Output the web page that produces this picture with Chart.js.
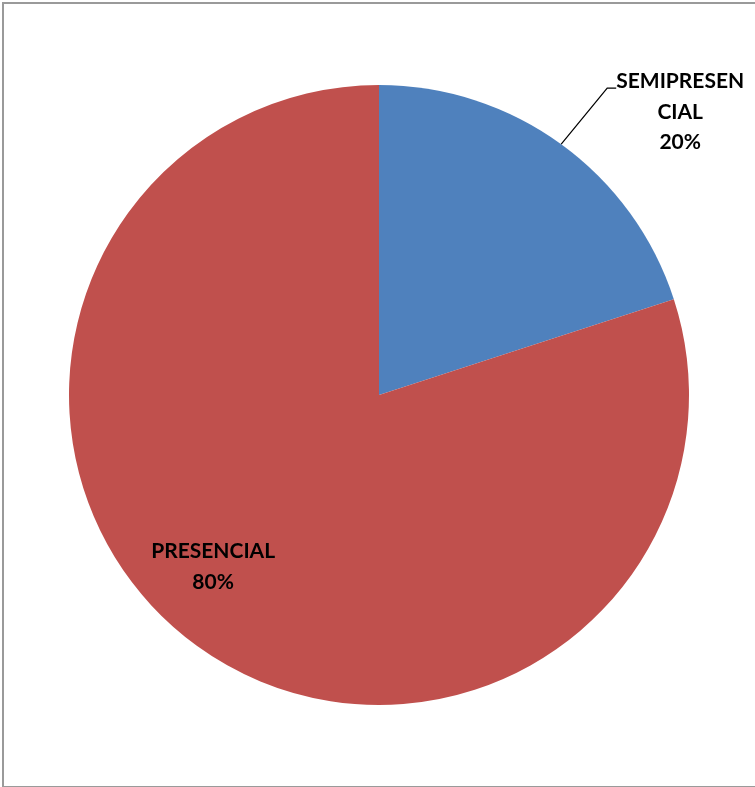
<!DOCTYPE html>
<html>
<head>
<meta charset="utf-8">
<script src="https://cdn.jsdelivr.net/npm/chart.js@4/dist/chart.umd.min.js"></script>
<style>
    html, body { margin: 0; padding: 0; background: #fff; }
    #marco {
        position: absolute;
        left: 2px;
        top: 2px;
        width: 760px;
        height: 782px;
        border-left: 2px solid #9a9a9a;
        border-top: 2px solid #9a9a9a;
        border-bottom: 2px solid #9a9a9a;
    }
    #contenedor { position: absolute; left: 0; top: 0; width: 755px; height: 787px; }
</style>
</head>
<body>
<div id="marco"></div>
<div id="contenedor"><canvas id="grafico" width="755" height="787"></canvas></div>
<script>
const modalidades = ["SEMIPRESENCIAL", "PRESENCIAL"];
const porcentajes = [20, 80];
const colores = ["#4F81BD", "#C0504D"];
// texto de cada etiqueta, partido en líneas como se dibuja
const lineasEtiqueta = [["SEMIPRESEN", "CIAL", "20%"], ["PRESENCIAL", "80%"]];

const fuente = "bold 21px Lato, 'Open Sans', sans-serif";

const etiquetasPlugin = {
    id: "etiquetas",
    afterDatasetsDraw(chart) {
        const ctx = chart.ctx;
        const arcos = chart.getDatasetMeta(0).data;
        ctx.save();
        ctx.font = fuente;
        ctx.fillStyle = "#000";
        ctx.textAlign = "center";
        ctx.textBaseline = "middle";
        const altoLinea = 30.5;

        arcos.forEach((arco, i) => {
            const { x, y, startAngle, endAngle, outerRadius } = arco.getProps(
                ["x", "y", "startAngle", "endAngle", "outerRadius"], true);
            const medio = (startAngle + endAngle) / 2;
            const lineas = lineasEtiqueta[i];
            let cx, cy;
            if (i === 0) {
                // etiqueta fuera del sector con línea guía
                const px = x + Math.cos(medio) * outerRadius;
                const py = y + Math.sin(medio) * outerRadius;
                const qx = px + 46;
                const qy = py - 56;
                ctx.strokeStyle = "#000";
                ctx.lineWidth = 1.2;
                ctx.beginPath();
                ctx.moveTo(px, py);
                ctx.lineTo(qx, qy);
                ctx.lineTo(qx + 9, qy);
                ctx.stroke();
                cx = qx + 73;
                cy = qy + 24;
            } else {
                const r = outerRadius * 0.77;
                const ang = medio + 0.14;
                cx = x + Math.cos(ang) * r;
                cy = y + Math.sin(ang) * r;
            }
            const inicio = cy - (lineas.length - 1) * altoLinea / 2;
            lineas.forEach((t, k) => ctx.fillText(t, cx, inicio + k * altoLinea));
        });
        ctx.restore();
    }
};

new Chart(document.querySelector("#grafico").getContext("2d"), {
    type: "pie",
    data: {
        labels: modalidades,
        datasets: [{
            data: porcentajes,
            backgroundColor: colores,
            borderWidth: 0,
        }],
    },
    options: {
        responsive: false,
        animation: false,
        layout: { padding: { left: 69, right: 66, top: 85, bottom: 82 } },
        plugins: {
            legend: { display: false },
            tooltip: { enabled: false },
        },
    },
    plugins: [etiquetasPlugin],
});
</script>
</body>
</html>
